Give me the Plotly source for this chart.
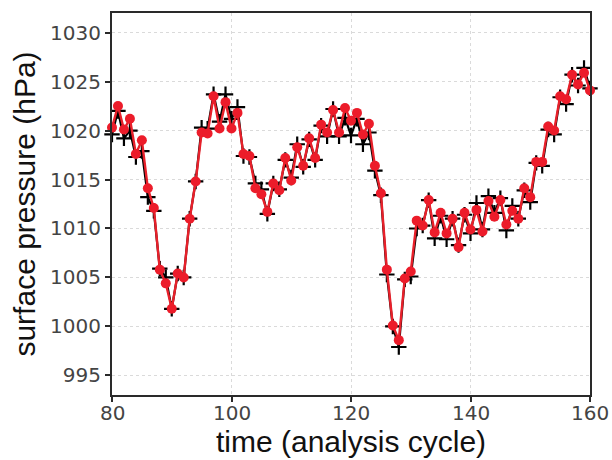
import plotly.graph_objects as go

time = list(range(80, 161))

truth = [
    1019.6, 1022.0, 1019.2, 1020.0, 1017.3, 1017.9, 1013.2, 1011.8, 1005.9, 1005.0,
    1001.8, 1005.4, 1005.0, 1011.0, 1014.8, 1020.3, 1020.2, 1023.7, 1020.9, 1023.7,
    1021.2, 1022.4, 1017.4, 1017.3, 1014.6, 1014.0, 1011.5, 1014.6, 1014.0, 1017.0,
    1015.2, 1018.6, 1016.3, 1019.1, 1017.0, 1020.5, 1019.4, 1022.2, 1019.4, 1021.3,
    1019.5, 1021.2, 1018.6, 1019.8, 1015.9, 1013.4, 1005.3, 1000.0, 997.9, 1004.8,
    1005.1, 1010.0, 1010.3, 1012.9, 1009.0, 1011.3, 1008.9, 1011.0, 1008.3, 1011.4,
    1009.5, 1012.6, 1009.9, 1013.3, 1011.6, 1013.1, 1009.8, 1012.3, 1011.0, 1013.9,
    1012.7, 1016.7, 1016.4, 1020.1, 1019.6, 1023.4, 1022.7, 1025.7, 1024.6, 1026.4,
    1024.3,
]

analysis = [
    1020.3, 1022.5, 1020.1, 1021.2, 1017.6, 1019.0, 1014.1, 1012.1, 1005.8, 1004.4,
    1001.8, 1005.4, 1005.0, 1011.0, 1014.8, 1019.8, 1019.7, 1023.5, 1020.2, 1022.9,
    1020.2, 1021.8, 1017.6, 1017.4, 1014.1, 1013.5, 1011.7, 1014.6, 1013.9, 1017.2,
    1014.9, 1018.3, 1016.4, 1019.2, 1017.2, 1020.6, 1019.8, 1022.1, 1019.8, 1022.3,
    1021.0, 1021.8, 1019.6, 1020.7, 1016.4, 1013.6, 1005.8, 1000.1, 998.6, 1004.9,
    1005.6, 1010.8, 1010.3, 1012.9, 1009.6, 1011.6, 1009.5, 1011.0, 1008.1, 1011.6,
    1009.9, 1011.9, 1009.7, 1012.8, 1011.2, 1012.9, 1010.4, 1011.8, 1011.0, 1014.1,
    1013.2, 1016.8, 1016.8, 1020.4, 1020.0, 1023.5, 1023.2, 1025.7, 1024.7, 1025.9,
    1024.1,
]

x_ticks = [80, 100, 120, 140, 160]
y_ticks = [995, 1000, 1005, 1010, 1015, 1020, 1025, 1030]

tick_font = dict(family="DejaVu Sans, sans-serif", size=20, color="#444")

fig = go.Figure()
fig.add_trace(go.Scatter(
    x=time, y=truth, mode="lines+markers", name="truth",
    line=dict(color="black", width=2.2),
    marker=dict(symbol="cross-thin", size=11, line=dict(color="black", width=2.2)),
    cliponaxis=False,
))
fig.add_trace(go.Scatter(
    x=time, y=analysis, mode="lines+markers", name="analysis",
    line=dict(color="#e8202a", width=2.4),
    marker=dict(symbol="circle", size=10, color="#ec1c2a"),
    cliponaxis=False,
))

axis_common = dict(
    showline=True, linecolor="#2a2a2a", linewidth=2, mirror=True,
    ticks="outside", ticklen=5, tickwidth=1.5, tickcolor="#2a2a2a",
    showgrid=True, gridcolor="#dadada", griddash="dot", gridwidth=1,
    zeroline=False, automargin=False,
    tickfont=tick_font,
)

annotations = [
    dict(text=str(t), x=t, xref="x", y=0, yref="paper",
         xanchor="center", yanchor="top", yshift=-4,
         showarrow=False, font=tick_font)
    for t in x_ticks
]
annotations.append(dict(
    text="time (analysis cycle)", xref="paper", yref="paper",
    x=0.5, y=0, xanchor="center", yanchor="top", yshift=-28,
    showarrow=False, font=dict(size=30, color="#111"),
))

fig.update_layout(
    width=612, height=460,
    margin=dict(l=112, r=22, t=13, b=65),
    paper_bgcolor="white", plot_bgcolor="white",
    showlegend=False,
    font=dict(family="Liberation Sans, Arial, sans-serif"),
    xaxis=dict(range=[80, 160], tickvals=x_ticks, showticklabels=False, **axis_common),
    yaxis=dict(
        range=[993, 1032], tickvals=y_ticks,
        title=dict(text="surface pressure (hPa)", font=dict(size=30, color="#111"), standoff=6),
        **axis_common,
    ),
    annotations=annotations,
)

fig.write_html(
    "out.html",
    config={"displayModeBar": False},
    post_script="document.body.style.margin='0';document.body.style.overflow='hidden';",
)
